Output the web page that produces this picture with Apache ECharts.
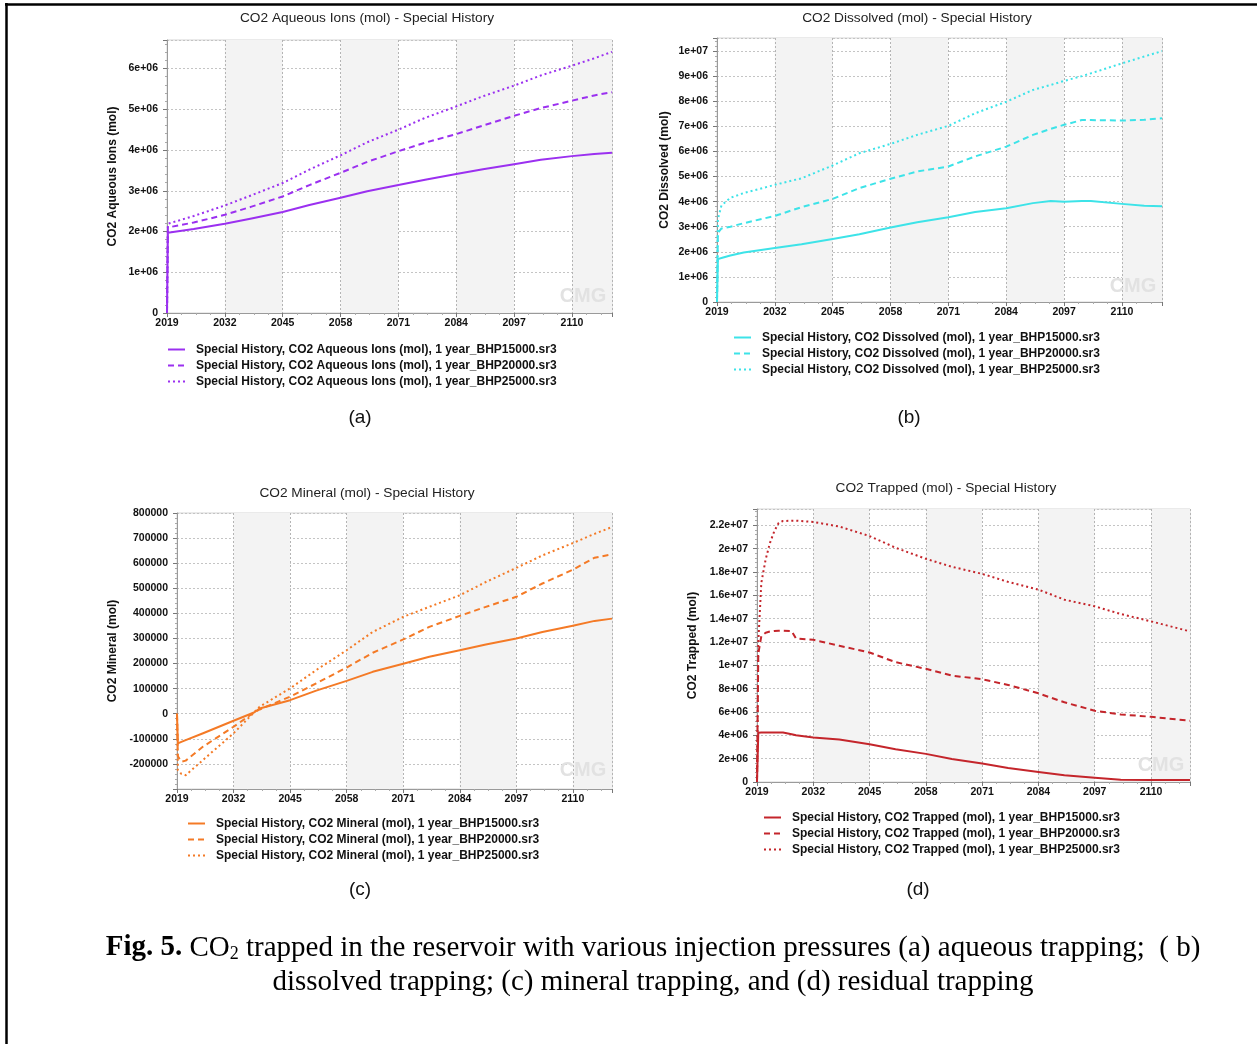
<!DOCTYPE html>
<html><head><meta charset="utf-8">
<script src="https://cdn.jsdelivr.net/npm/echarts@6/dist/echarts.min.js"></script>
<style>html,body{margin:0;padding:0;background:#fff}#c{width:1257px;height:1044px}</style>
</head><body><div id="c"></div>
<script>
// ---------- DATA ----------
const xTickLabels = ['2019','2032','2045','2058','2071','2084','2097','2110'];
const seriesLabels = ['1 year_BHP15000.sr3','1 year_BHP20000.sr3','1 year_BHP25000.sr3'];

// (a) CO2 Aqueous Ions (mol)
const aqYears = [2019, 2019.2, 2025, 2032, 2038, 2045, 2051, 2058, 2064, 2071, 2077, 2084, 2090, 2097, 2103, 2110, 2115, 2119];
const aq15 = [0, 1.97e6, 2.06e6, 2.19e6, 2.32e6, 2.48e6, 2.65e6, 2.83e6, 2.99e6, 3.14e6, 3.27e6, 3.41e6, 3.53e6, 3.65e6, 3.76e6, 3.85e6, 3.90e6, 3.93e6];
const aq20 = [0, 2.10e6, 2.22e6, 2.41e6, 2.61e6, 2.86e6, 3.14e6, 3.44e6, 3.71e6, 3.97e6, 4.18e6, 4.39e6, 4.60e6, 4.84e6, 5.03e6, 5.21e6, 5.34e6, 5.42e6];
const aq25 = [0, 2.19e6, 2.38e6, 2.64e6, 2.89e6, 3.19e6, 3.52e6, 3.87e6, 4.19e6, 4.50e6, 4.79e6, 5.07e6, 5.32e6, 5.58e6, 5.83e6, 6.07e6, 6.25e6, 6.41e6];

// (b) CO2 Dissolved (mol)
const dsYears = [2019, 2019.2, 2020, 2022, 2025, 2032, 2038, 2045, 2051, 2058, 2064, 2071, 2077, 2084, 2090, 2094, 2097, 2101, 2103, 2110, 2115, 2119];
const ds15 = [0, 1.71e6, 1.75e6, 1.85e6, 1.97e6, 2.15e6, 2.30e6, 2.51e6, 2.70e6, 2.97e6, 3.18e6, 3.38e6, 3.59e6, 3.74e6, 3.94e6, 4.02e6, 3.99e6, 4.02e6, 4.02e6, 3.91e6, 3.84e6, 3.82e6];
const ds20 = [0, 2.75e6, 2.93e6, 3.00e6, 3.14e6, 3.43e6, 3.78e6, 4.11e6, 4.54e6, 4.91e6, 5.20e6, 5.40e6, 5.80e6, 6.19e6, 6.66e6, 6.90e6, 7.06e6, 7.25e6, 7.25e6, 7.23e6, 7.26e6, 7.32e6];
const ds25 = [0, 3.30e6, 3.85e6, 4.15e6, 4.34e6, 4.67e6, 4.93e6, 5.44e6, 5.93e6, 6.30e6, 6.66e6, 7.02e6, 7.52e6, 7.98e6, 8.45e6, 8.65e6, 8.81e6, 9.00e6, 9.11e6, 9.51e6, 9.78e6, 10.0e6];

// (c) CO2 Mineral (mol)
const mnYears = [2019, 2019.2, 2020, 2021, 2025, 2032, 2036.7, 2038, 2045, 2051, 2058, 2064, 2071, 2077, 2084, 2090, 2097, 2103, 2110, 2115, 2119];
const mn15 = [0, -118000, -112000, -105000, -78000, -28000, 5000, 21000, 54000, 92000, 131000, 167000, 199000, 227000, 253000, 276000, 300000, 326000, 351000, 370000, 379000];
const mn20 = [0, -170000, -191000, -187000, -131000, -52000, 5000, 17000, 68000, 121000, 184000, 243000, 296000, 346000, 390000, 426000, 466000, 519000, 574000, 622000, 635000];
const mn25 = [0, -225000, -240000, -245000, -184000, -78000, 5000, 28000, 101000, 174000, 253000, 326000, 386000, 426000, 472000, 525000, 581000, 631000, 680000, 717000, 744000];

// (d) CO2 Trapped (mol)
const trYears = [2019, 2019.3, 2020, 2021, 2022, 2023, 2024, 2025, 2027, 2028, 2032, 2038, 2045, 2051, 2058, 2064, 2071, 2077, 2084, 2090, 2097, 2103, 2110, 2119];
const tr15 = [0, 4.22e6, 4.24e6, 4.25e6, 4.25e6, 4.25e6, 4.25e6, 4.24e6, 4.10e6, 4.00e6, 3.82e6, 3.64e6, 3.24e6, 2.81e6, 2.41e6, 1.98e6, 1.58e6, 1.20e6, 0.86e6, 0.57e6, 0.37e6, 0.20e6, 0.17e6, 0.17e6];
const tr20 = [0, 11.0e6, 12.5e6, 12.8e6, 12.9e6, 12.95e6, 12.97e6, 12.97e6, 12.94e6, 12.3e6, 12.19e6, 11.68e6, 11.1e6, 10.27e6, 9.7e6, 9.12e6, 8.81e6, 8.32e6, 7.6e6, 6.83e6, 6.11e6, 5.79e6, 5.59e6, 5.25e6];
const tr25 = [0, 12.0e6, 17.07e6, 19.08e6, 20.5e6, 21.5e6, 22.2e6, 22.37e6, 22.4e6, 22.4e6, 22.29e6, 21.9e6, 21.08e6, 20.08e6, 19.13e6, 18.45e6, 17.84e6, 17.15e6, 16.49e6, 15.63e6, 15.06e6, 14.4e6, 13.77e6, 12.91e6];

// ---------- CHART ----------
const X0 = 2019;
const panels = [
  {title:'CO2 Aqueous Ions (mol) - Special History', yname:'CO2 Aqueous Ions (mol)', qty:'CO2 Aqueous Ions (mol)',
   color:'#9b30f0', years:aqYears, vals:[aq15,aq20,aq25],
   grid:{left:167, top:40, width:445, height:273}, ymin:0, ymax:6.7e6, yint:1e6, fmt:'exp', nameGap:48,
   tx:367, ty:18, legend:{left:162, top:338}, lab:{x:360,y:418,t:'(a)'}, wm:{x:583,y:296}},
  {title:'CO2 Dissolved (mol) - Special History', yname:'CO2 Dissolved (mol)', qty:'CO2 Dissolved (mol)',
   color:'#3de3e8', years:dsYears, vals:[ds15,ds20,ds25],
   grid:{left:717, top:38, width:445, height:264}, ymin:0, ymax:1.052e7, yint:1e6, fmt:'exp', nameGap:46,
   tx:917, ty:18, legend:{left:728, top:326}, lab:{x:909,y:418,t:'(b)'}, wm:{x:1133,y:286}},
  {title:'CO2 Mineral (mol) - Special History', yname:'CO2 Mineral (mol)', qty:'CO2 Mineral (mol)',
   color:'#f47a26', years:mnYears, vals:[mn15,mn20,mn25],
   grid:{left:177, top:513, width:435, height:276}, ymin:-300000, ymax:800000, yint:100000, fmt:'plain', nameGap:58, hideBelow:-250000,
   tx:367, ty:493, legend:{left:182, top:812}, lab:{x:360,y:890,t:'(c)'}, wm:{x:583,y:770}},
  {title:'CO2 Trapped (mol) - Special History', yname:'CO2 Trapped (mol)', qty:'CO2 Trapped (mol)',
   color:'#c4252b', years:trYears, vals:[tr15,tr20,tr25],
   grid:{left:757, top:509, width:433, height:273}, ymin:0, ymax:2.34e7, yint:2e6, fmt:'exp', nameGap:58,
   tx:946, ty:488, legend:{left:758, top:806}, lab:{x:918,y:890,t:'(d)'}, wm:{x:1161,y:765}}
];
const dashes = ['solid', [6,4], [2,3]];
const FONT = 'Liberation Sans, Arial, sans-serif';

function expFmt(v){
  if (v === 0) return '0';
  return v.toExponential().replace(/e([+-])(\d)$/, 'e$10$2');
}

const grids=[], xAxes=[], yAxes=[], series=[], legends=[], graphics=[];
panels.forEach((p,i)=>{
  grids.push(Object.assign({show:true, borderColor:'#d4d4d4', borderWidth:1, backgroundColor:'transparent'}, p.grid));
  xAxes.push({
    type:'value', gridIndex:i, min:0, max:100, interval:13,
    axisLine:{show:true, onZero:false, lineStyle:{color:'#9a9a9a', width:1}},
    axisTick:{show:true, length:4, lineStyle:{color:'#777'}},
    minorTick:{show:true, splitNumber:4, length:2, lineStyle:{color:'#aaa'}},
    axisLabel:{color:'#111', fontWeight:'bold', fontSize:10.5, fontFamily:FONT, margin:5,
      formatter:v=>{ const k=Math.round(v/13); return (Math.abs(v-13*k)<1e-6 && k<xTickLabels.length)? xTickLabels[k] : ''; }},
    splitLine:{show:true, lineStyle:{color:'#b4b4b4', type:[2,2], width:1}},
    splitArea:{show:true, areaStyle:{color:['rgba(255,255,255,0)','#f3f3f3']}}
  });
  yAxes.push({
    type:'value', gridIndex:i, min:p.ymin, max:p.ymax, interval:p.yint,
    name:p.yname, nameLocation:'middle', nameGap:p.nameGap,
    nameTextStyle:{color:'#111', fontWeight:'bold', fontSize:12, fontFamily:FONT},
    axisLine:{show:true, lineStyle:{color:'#9a9a9a', width:1}},
    axisTick:{show:true, length:4, lineStyle:{color:'#777'}},
    minorTick:{show:true, splitNumber:5, length:2, lineStyle:{color:'#aaa'}},
    axisLabel:{color:'#111', fontWeight:'bold', fontSize:10.5, fontFamily:FONT, margin:9,
      formatter:v=>{
        const k=Math.round(v/p.yint);
        if (Math.abs(v - k*p.yint) > p.yint*1e-6) return '';
        if (p.hideBelow!==undefined && v < p.hideBelow) return '';
        return p.fmt==='exp' ? expFmt(v) : String(Math.round(v));
      }},
    splitLine:{show:true, lineStyle:{color:'#c4c4c4', type:[2,2], width:1}}
  });
  const names=[];
  p.vals.forEach((vals,j)=>{
    const nm = 'Special History, ' + p.qty + ', ' + seriesLabels[j];
    names.push(nm);
    series.push({
      name:nm, type:'line', xAxisIndex:i, yAxisIndex:i,
      data:p.years.map((y,k)=>[y-X0, vals[k]]),
      showSymbol:false, symbol:'none', smooth:false,
      lineStyle:{color:p.color, width:2, type:dashes[j], join:'round'},
      itemStyle:{color:p.color}, z:3
    });
  });
  legends.push({
    data:names, orient:'vertical', left:p.legend.left, top:p.legend.top,
    itemWidth:17, itemHeight:10, itemGap:3,
    itemStyle:{color:'rgba(0,0,0,0)', borderColor:'rgba(0,0,0,0)', borderWidth:0, opacity:0},
    textStyle:{color:'#111', fontWeight:'bold', fontSize:12, fontFamily:FONT, padding:[0,0,0,6], lineHeight:13},
    selectedMode:false
  });
  graphics.push({type:'text', x:p.tx, y:p.ty, style:{text:p.title, fill:'#222', font:'13.7px '+FONT, textAlign:'center', textVerticalAlign:'middle'}});
  graphics.push({type:'text', x:p.lab.x, y:p.lab.y, style:{text:p.lab.t, fill:'#111', font:'19px '+FONT, textAlign:'center', textVerticalAlign:'middle'}});
  graphics.push({type:'text', x:p.wm.x, y:p.wm.y, z:10, style:{text:'CMG', fill:'#e2e2e2', font:'bold 20px '+FONT, textAlign:'center', textVerticalAlign:'middle'}});
});

// Frame lines
graphics.push({type:'line', shape:{x1:5, y1:4.5, x2:1257, y2:4.5}, style:{stroke:'#000', lineWidth:2.5}});
graphics.push({type:'line', shape:{x1:6.5, y1:3, x2:6.5, y2:1044}, style:{stroke:'#000', lineWidth:2.5}});

// Caption
const SERIF = 'Liberation Serif, Times New Roman, serif';
graphics.push({type:'text', x:653, y:948, style:{
  text:'{b|Fig. 5.}{n| CO}{s|2}{n| trapped in the reservoir with various injection pressures (a) aqueous trapping;  ( b)}',
  textAlign:'center', textVerticalAlign:'middle',
  rich:{
    b:{fontFamily:SERIF, fontSize:29, fontWeight:'bold', fill:'#000', lineHeight:32, verticalAlign:'middle'},
    n:{fontFamily:SERIF, fontSize:29, fill:'#000', lineHeight:32, verticalAlign:'middle'},
    s:{fontFamily:SERIF, fontSize:18, fill:'#000', lineHeight:32, verticalAlign:'middle', padding:[13,0,0,0]}
  }}});
graphics.push({type:'text', x:653, y:982, style:{text:'dissolved trapping; (c) mineral trapping, and (d) residual trapping',
  fill:'#000', font:'29px '+SERIF, textAlign:'center', textVerticalAlign:'middle'}});

const chart = echarts.init(document.getElementById('c'), null, {renderer:'canvas'});
chart.setOption({
  backgroundColor:'#fff', animation:false,
  grid:grids, xAxis:xAxes, yAxis:yAxes, series:series, legend:legends, graphic:graphics
});
</script></body></html>
